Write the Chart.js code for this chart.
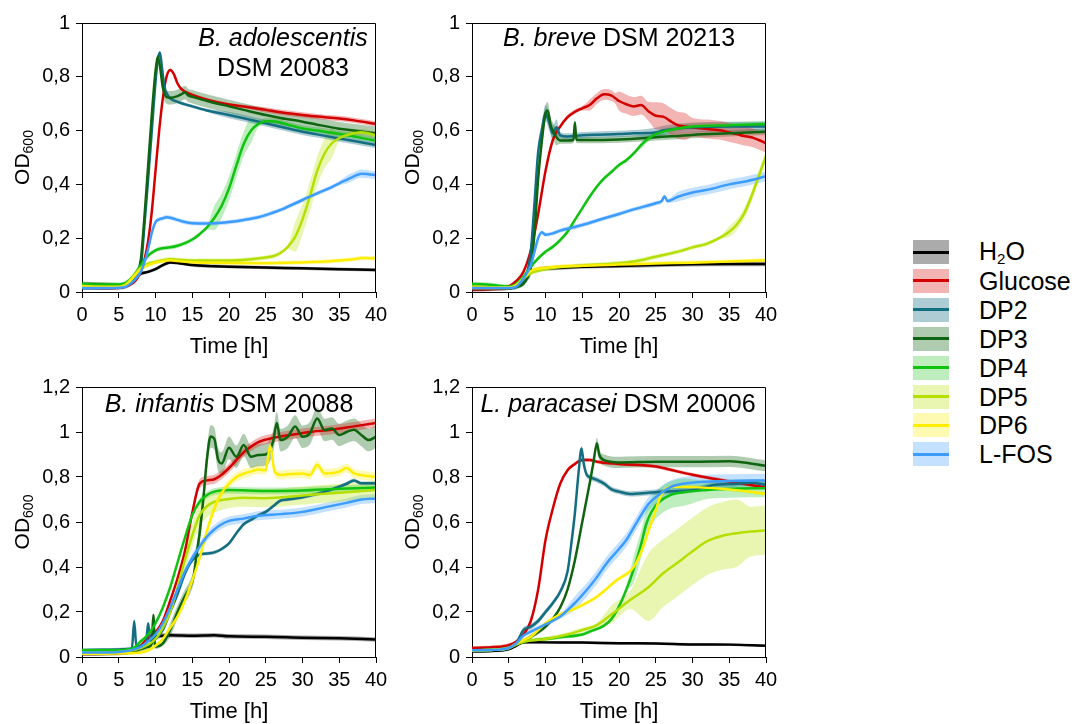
<!DOCTYPE html>
<html>
<head>
<meta charset="utf-8">
<title>OD600 growth curves</title>
<script src="https://cdn.jsdelivr.net/npm/chart.js@4.4.1/dist/chart.umd.min.js"></script>
<style>
  body { margin: 0; background: #fff; width: 1074px; height: 724px; overflow: hidden; position: relative;
         font-family: "Liberation Sans", Arial, sans-serif; color: #000; }
  canvas { position: absolute; }
  #legend { position: absolute; left: 913px; top: 240px; }
  .row { position: absolute; left: 0; width: 160px; height: 24px; }
  .sw { position: absolute; left: 0; top: 0; width: 36px; height: 24px; }
  .sw i { position: absolute; left: 0; right: 0; top: 10.5px; height: 3px; }
  .lab { position: absolute; left: 66px; top: 12px; transform: translateY(-50%); font-size: 25px; line-height: 1; white-space: nowrap; }
</style>
</head>
<body>
<canvas id="p1" width="400" height="365" style="left:0;top:0"></canvas>
<canvas id="p2" width="400" height="365" style="left:390px;top:0"></canvas>
<canvas id="p3" width="400" height="365" style="left:0;top:365px"></canvas>
<canvas id="p4" width="400" height="365" style="left:390px;top:365px"></canvas>
<div id="legend"></div>

<script>
// ── Series / styling ──────────────────────────────────
const seriesNames = ["H2O", "Glucose", "DP2", "DP3", "DP4", "DP5", "DP6", "L-FOS"];
const lineColors = ["#000000", "#d40000", "#146e82", "#0f640f", "#10c310", "#b4e000", "#ffee00", "#3c9cff"];
const bandColors = ["rgba(0,0,0,0.33)", "rgba(220,40,40,0.35)", "rgba(20,110,130,0.35)", "rgba(15,100,15,0.33)",
                    "rgba(40,200,40,0.3)", "rgba(180,224,0,0.3)", "rgba(255,238,0,0.3)", "rgba(60,156,255,0.3)"];
const yTicksTop = [0, 0.2, 0.4, 0.6, 0.8, 1];
const yTicksBottom = [0, 0.2, 0.4, 0.6, 0.8, 1, 1.2];
const xTicks = [0, 5, 10, 15, 20, 25, 30, 35, 40];

// ── B. adolescentis DSM 20083 : [time h, OD600] ───────
const adoH2O = [[0,0.015],[3,0.015],[5,0.017],[6,0.025],[7,0.045],[8,0.068],[9,0.075],[10,0.085],[11,0.1],[12,0.11],[13,0.108],[15,0.1],[18,0.096],[20,0.094],[25,0.091],[30,0.088],[35,0.085],[40,0.082]];
const adoGlucose = [[0,0.018],[3,0.015],[5,0.015],[6,0.02],[7,0.035],[7.5,0.05],[8,0.075],[8.5,0.12],[9,0.19],[9.5,0.3],[10,0.45],[10.5,0.6],[11,0.72],[11.5,0.8],[12,0.825],[12.5,0.81],[13,0.775],[13.5,0.755],[14,0.745],[15,0.733],[17,0.715],[20,0.697],[22,0.69],[25,0.677],[27,0.668],[30,0.658],[32,0.652],[35,0.645],[37,0.638],[40,0.625]];
const adoDP2 = [[0,0.02],[3,0.02],[5,0.02],[6,0.025],[7,0.045],[7.5,0.06],[8,0.09],[8.5,0.25],[9,0.42],[9.5,0.6],[10,0.78],[10.3,0.86],[10.6,0.89],[10.9,0.83],[11.2,0.765],[11.6,0.735],[12,0.72],[13,0.707],[15,0.69],[17,0.675],[20,0.658],[22,0.646],[25,0.627],[27,0.614],[30,0.596],[32,0.586],[35,0.571],[37,0.561],[40,0.546]];
const adoDP3 = [[0,0.03],[3,0.028],[5,0.025],[6,0.03],[7,0.05],[7.5,0.07],[8,0.12],[8.5,0.28],[9,0.47],[9.5,0.66],[10,0.82],[10.3,0.875],[10.6,0.84],[11,0.76],[11.5,0.725],[12,0.722],[13,0.728],[13.5,0.735],[14,0.742],[14.5,0.73],[15,0.726],[17,0.71],[20,0.69],[22,0.677],[25,0.658],[27,0.647],[30,0.633],[32,0.622],[35,0.607],[37,0.6],[40,0.59]];
const adoDP4 = [[0,0.03],[3,0.028],[5,0.028],[6,0.035],[7,0.06],[8,0.1],[9,0.135],[10,0.155],[11,0.163],[12,0.166],[13,0.172],[14,0.182],[15,0.195],[16,0.215],[17,0.24],[18,0.275],[19,0.32],[20,0.385],[21,0.47],[22,0.55],[23,0.6],[24,0.625],[25,0.635],[26,0.635],[28,0.622],[30,0.608],[32,0.6],[35,0.588],[37,0.578],[40,0.562]];
const adoDP5 = [[0,0.022],[3,0.02],[5,0.02],[6,0.03],[7,0.06],[8,0.09],[9,0.105],[10,0.112],[11,0.118],[12,0.122],[13,0.12],[15,0.117],[20,0.117],[23,0.122],[25,0.128],[26,0.133],[27,0.145],[28,0.168],[29,0.205],[30,0.27],[31,0.355],[32,0.45],[33,0.515],[34,0.553],[35,0.572],[36,0.583],[37,0.59],[38,0.594],[40,0.583]];
const adoDP6 = [[0,0.02],[3,0.018],[5,0.018],[6,0.025],[7,0.055],[8,0.085],[9,0.1],[10,0.11],[11,0.115],[12,0.118],[13,0.115],[15,0.111],[20,0.108],[25,0.107],[30,0.11],[33,0.113],[35,0.117],[37,0.122],[38,0.126],[40,0.125]];
const adoLFOS = [[0,0.015],[3,0.015],[5,0.016],[6,0.02],[7,0.04],[8,0.075],[8.5,0.11],[9,0.16],[9.5,0.22],[10,0.26],[10.5,0.27],[11,0.274],[11.5,0.278],[12,0.276],[13,0.268],[14,0.26],[15,0.256],[17,0.255],[19,0.257],[20,0.26],[22,0.268],[24,0.278],[25,0.286],[27,0.305],[28,0.317],[30,0.342],[32,0.367],[34,0.39],[35,0.404],[36,0.417],[37,0.43],[38,0.44],[39,0.438],[40,0.435]];
// band half-widths: [from time, spread]
const adoSpread = [[[0,0.006]], [[0,0.006],[25,0.01]], [[0,0.006],[20,0.012]], [[0,0.008],[11,0.025]],
                   [[0,0.008],[18,0.045],[24,0.012]], [[0,0.008],[29,0.055],[35,0.012]], [[0,0.008]], [[0,0.008],[36,0.015]]];

// ── B. breve DSM 20213 ────────────────────────────────
const brvH2O = [[0,0.01],[3,0.012],[5,0.015],[6,0.025],[7,0.05],[8,0.075],[9,0.083],[10,0.088],[12,0.09],[15,0.094],[20,0.097],[25,0.1],[30,0.103],[35,0.104],[40,0.104]];
const brvGlucose = [[0,0.01],[3,0.012],[5,0.02],[6,0.04],[7,0.075],[8,0.155],[9,0.29],[10,0.45],[11,0.565],[12,0.615],[13,0.65],[14,0.67],[15,0.683],[16,0.695],[17,0.72],[18,0.735],[19,0.73],[19.5,0.72],[20,0.71],[21,0.698],[22,0.69],[23,0.695],[24,0.672],[25,0.655],[26,0.652],[27,0.635],[28,0.62],[29,0.615],[30,0.612],[32,0.606],[34,0.6],[35,0.593],[36,0.587],[37,0.58],[38,0.575],[39,0.565],[40,0.553]];
const brvDP2 = [[0,0.015],[3,0.015],[5,0.015],[6,0.02],[7,0.04],[7.5,0.07],[8,0.15],[8.5,0.33],[9,0.52],[9.5,0.6],[10,0.665],[10.5,0.63],[11,0.59],[11.5,0.612],[12,0.582],[13,0.578],[15,0.583],[17,0.585],[20,0.587],[22,0.59],[25,0.593],[26,0.6],[28,0.608],[30,0.612],[35,0.615],[40,0.615]];
const brvDP3 = [[0,0.015],[3,0.015],[5,0.015],[6,0.018],[7,0.03],[7.5,0.05],[8,0.09],[8.5,0.22],[9,0.42],[9.5,0.56],[10,0.665],[10.3,0.675],[10.7,0.62],[11,0.6],[11.5,0.575],[12,0.563],[13,0.563],[13.8,0.565],[14,0.63],[14.2,0.566],[15,0.565],[20,0.567],[25,0.575],[30,0.584],[35,0.59],[40,0.596]];
const brvDP4 = [[0,0.03],[2,0.028],[4,0.022],[5,0.02],[6,0.03],[7,0.057],[8,0.094],[9,0.125],[10,0.15],[11,0.168],[12,0.193],[13,0.224],[14,0.268],[15,0.311],[16,0.354],[17,0.392],[18,0.423],[19,0.447],[20,0.472],[21,0.49],[22,0.515],[23,0.546],[24,0.571],[25,0.587],[26,0.596],[27,0.602],[28,0.608],[30,0.615],[35,0.62],[40,0.625]];
const brvDP5 = [[0,0.02],[3,0.018],[5,0.018],[6,0.025],[7,0.05],[8,0.07],[10,0.085],[15,0.098],[20,0.107],[22,0.113],[25,0.131],[28,0.15],[30,0.166],[32,0.18],[34,0.206],[35,0.224],[36,0.25],[37,0.29],[38,0.354],[39,0.43],[40,0.506]];
const brvDP6 = [[0,0.015],[3,0.015],[5,0.015],[6,0.025],[7,0.05],[8,0.078],[10,0.09],[15,0.098],[20,0.102],[25,0.106],[30,0.109],[35,0.113],[40,0.118]];
const brvLFOS = [[0,0.015],[3,0.015],[5,0.015],[6,0.02],[7,0.05],[8,0.1],[8.5,0.15],[9,0.2],[9.5,0.222],[10,0.213],[11,0.218],[12,0.228],[15,0.249],[18,0.274],[20,0.29],[22,0.307],[25,0.33],[25.8,0.338],[26.2,0.355],[26.6,0.338],[28,0.354],[30,0.37],[32,0.38],[35,0.4],[37,0.41],[40,0.43]];
const brvSpread = [[[0,0.008]], [[0,0.008],[16,0.02],[20,0.035],[25,0.05],[30,0.035]], [[0,0.008],[8,0.03],[12,0.012],[24,0.018]],
                   [[0,0.008],[8,0.03],[12,0.012]], [[0,0.008],[23,0.012]], [[0,0.008],[35,0.02]], [[0,0.008]], [[0,0.008],[28,0.018]]];

// ── B. infantis DSM 20088 ─────────────────────────────
const infH2O = [[0,0.015],[3,0.016],[5,0.018],[7,0.028],[8,0.046],[9,0.076],[10,0.09],[12,0.097],[15,0.095],[18,0.097],[20,0.092],[25,0.09],[30,0.086],[35,0.083],[40,0.078]];
const infGlucose = [[0,0.015],[3,0.016],[5,0.02],[7,0.025],[8,0.05],[9,0.085],[10,0.11],[11,0.16],[12,0.25],[13,0.35],[14,0.47],[15,0.64],[16,0.77],[17,0.785],[18,0.79],[19,0.81],[20,0.84],[21,0.875],[22,0.91],[23,0.935],[24,0.955],[25,0.966],[27,0.98],[29,0.99],[31,1.0],[34,1.01],[37,1.025],[40,1.04]];
const infDP2 = [[0,0.03],[3,0.032],[5,0.033],[6,0.035],[6.8,0.04],[7.1,0.16],[7.4,0.045],[8,0.05],[8.7,0.06],[9,0.15],[9.3,0.07],[10,0.08],[11,0.12],[12,0.2],[13,0.28],[14,0.37],[15,0.43],[16,0.455],[17,0.46],[18,0.465],[19,0.48],[20,0.505],[21,0.55],[22,0.59],[23,0.61],[24,0.63],[25,0.645],[26,0.67],[27,0.695],[28,0.7],[30,0.71],[32,0.725],[34,0.745],[35,0.757],[36,0.77],[37,0.785],[38,0.772],[40,0.772]];
const infDP3 = [[0,0.02],[3,0.02],[5,0.022],[7,0.025],[8,0.035],[9,0.045],[9.5,0.06],[9.7,0.187],[9.9,0.06],[10,0.046],[11,0.06],[12,0.12],[13,0.2],[14,0.27],[14.7,0.31],[15.2,0.36],[15.6,0.46],[16,0.55],[16.5,0.7],[17,0.88],[17.5,0.98],[18,0.97],[18.5,0.88],[19,0.86],[20,0.93],[21,0.89],[22,0.942],[23,0.89],[24,0.898],[25,0.9],[26,0.957],[26.5,1.04],[27,0.964],[28,0.979],[29,1.024],[30,0.979],[31,0.994],[32,1.06],[33,1.009],[34,1.016],[35,0.987],[36,1.0],[37,1.01],[38,0.987],[39,0.964],[40,0.979]];
const infDP4 = [[0,0.03],[3,0.03],[5,0.03],[7,0.04],[8,0.07],[9,0.1],[10,0.15],[11,0.22],[12,0.31],[13,0.42],[14,0.53],[15,0.63],[16,0.69],[17,0.72],[18,0.735],[20,0.742],[25,0.738],[30,0.74],[35,0.748],[40,0.753]];
const infDP5 = [[0,0.02],[3,0.02],[5,0.022],[8,0.04],[10,0.08],[11,0.13],[12,0.2],[13,0.31],[14,0.43],[15,0.54],[16,0.63],[17,0.67],[18,0.69],[20,0.702],[22,0.708],[25,0.706],[30,0.718],[35,0.73],[40,0.742]];
const infDP6 = [[0,0.015],[3,0.015],[5,0.016],[8,0.02],[9,0.03],[10,0.05],[11,0.08],[12,0.13],[13,0.18],[14,0.25],[15,0.34],[16,0.44],[17,0.56],[18,0.66],[19,0.73],[20,0.77],[21,0.8],[22,0.815],[23,0.825],[24,0.833],[25,0.83],[25.6,0.94],[26.2,0.825],[27,0.809],[28,0.812],[30,0.816],[31,0.809],[32,0.853],[33,0.816],[35,0.824],[36,0.84],[37,0.816],[38,0.809],[40,0.8]];
const infLFOS = [[0,0.02],[3,0.02],[5,0.022],[8,0.045],[9,0.07],[10,0.1],[11,0.15],[12,0.22],[13,0.3],[14,0.38],[15,0.44],[16,0.49],[17,0.535],[18,0.567],[19,0.59],[20,0.605],[22,0.615],[24,0.628],[27,0.635],[30,0.645],[33,0.665],[36,0.685],[38,0.7],[40,0.705]];
const infSpread = [[[0,0.01]], [[0,0.008],[15,0.02]], [[0,0.008]], [[0,0.01],[12,0.03],[16,0.05]],
                   [[0,0.008],[16,0.015]], [[0,0.01],[14,0.05],[20,0.04]], [[0,0.008],[17,0.02]], [[0,0.008],[15,0.02]]];

// ── L. paracasei DSM 20006 ────────────────────────────
const parH2O = [[0,0.025],[3,0.028],[5,0.035],[6,0.05],[7,0.066],[10,0.065],[15,0.064],[20,0.061],[25,0.06],[30,0.056],[35,0.055],[40,0.05]];
const parGlucose = [[0,0.04],[3,0.044],[5,0.053],[6,0.068],[7,0.1],[8,0.16],[9,0.3],[10,0.52],[11,0.66],[12,0.77],[13,0.83],[14,0.858],[15,0.876],[16,0.876],[17,0.868],[20,0.858],[25,0.847],[27,0.832],[30,0.81],[32.5,0.794],[35,0.78],[40,0.753]];
const parDP2 = [[0,0.03],[3,0.033],[5,0.04],[6,0.06],[7,0.12],[8,0.135],[9,0.16],[10,0.2],[11,0.24],[12,0.29],[13,0.38],[13.5,0.5],[14,0.64],[14.5,0.82],[14.9,0.927],[15.2,0.86],[15.6,0.81],[16,0.8],[17,0.787],[18,0.77],[19,0.745],[20,0.735],[21.5,0.725],[24,0.73],[26,0.735],[30,0.742],[33,0.765],[36,0.77],[38,0.775],[40,0.765]];
const parDP3 = [[0,0.03],[3,0.032],[5,0.04],[6,0.055],[7,0.07],[8,0.09],[9,0.11],[10,0.135],[11,0.17],[12,0.22],[13,0.3],[14,0.43],[15,0.6],[16,0.77],[16.5,0.86],[17,0.95],[17.3,0.9],[18,0.875],[20,0.865],[25,0.868],[30,0.868],[35,0.87],[40,0.85]];
const parDP4 = [[0,0.03],[3,0.032],[5,0.04],[6,0.055],[7,0.068],[10,0.08],[12,0.088],[15,0.1],[16,0.113],[18,0.14],[19,0.17],[20,0.225],[21,0.3],[22,0.39],[23,0.5],[23.7,0.59],[24.5,0.65],[25.5,0.69],[27,0.72],[29,0.733],[32,0.742],[35,0.748],[40,0.75]];
const parDP5 = [[0,0.03],[3,0.032],[5,0.04],[6,0.055],[7,0.068],[10,0.08],[13,0.1],[15,0.12],[17,0.142],[19,0.19],[21.5,0.253],[24,0.31],[26,0.372],[28,0.42],[30,0.47],[32,0.515],[34,0.538],[36,0.55],[38,0.558],[40,0.563]];
const parDP6 = [[0,0.03],[3,0.032],[5,0.04],[6,0.06],[7,0.075],[8,0.09],[10,0.15],[12,0.19],[14,0.215],[17,0.268],[19.7,0.342],[22,0.4],[23.3,0.49],[24,0.56],[24.7,0.624],[25.5,0.7],[26,0.735],[27.4,0.757],[30,0.755],[35,0.745],[40,0.725]];
const parLFOS = [[0,0.03],[3,0.032],[5,0.04],[6,0.06],[7,0.095],[8,0.113],[10,0.145],[12,0.18],[14,0.24],[15.6,0.298],[17,0.355],[18.3,0.416],[20,0.48],[21,0.52],[22,0.575],[23.3,0.646],[24,0.68],[25,0.71],[27,0.755],[30,0.775],[35,0.782],[40,0.785]];
const parSpread = [[[0,0.006]], [[0,0.008]], [[0,0.012]], [[0,0.01],[17,0.025]],
                   [[0,0.008],[22,0.06],[30,0.04]], [[0,0.01],[18,0.04],[22,0.1],[24,0.15],[37,0.11]], [[0,0.008]], [[0,0.01],[13,0.03]]];

(function () {
  "use strict";

  const FONT = '"Liberation Sans", Arial, sans-serif';
  Chart.defaults.font.family = FONT;
  Chart.defaults.color = "#000";

  // ── Frame, y title, panel title ───────────────────────
  const panelDeco = {
    id: "panelDeco",
    afterDraw(chart, args, opts) {
      const ctx = chart.ctx;
      const a = chart.chartArea;
      ctx.save();
      ctx.strokeStyle = "#000";
      ctx.lineWidth = 1;
      ctx.beginPath();
      ctx.moveTo(Math.round(a.left), Math.round(a.top) + 0.5);
      ctx.lineTo(Math.round(a.right) - 0.5, Math.round(a.top) + 0.5);
      ctx.lineTo(Math.round(a.right) - 0.5, Math.round(a.bottom));
      ctx.stroke();

      // OD600 (rotated, with subscript)
      ctx.translate(22, (a.top + a.bottom) / 2);
      ctx.rotate(-Math.PI / 2);
      ctx.fillStyle = "#000";
      ctx.textBaseline = "alphabetic";
      ctx.font = "21px " + FONT;
      const wOD = ctx.measureText("OD").width;
      ctx.font = "14px " + FONT;
      const wSub = ctx.measureText("600").width;
      const x0 = -(wOD + wSub) / 2;
      ctx.font = "21px " + FONT;
      ctx.fillText("OD", x0, 7);
      ctx.font = "14px " + FONT;
      ctx.fillText("600", x0 + wOD, 11);
      ctx.setTransform(1, 0, 0, 1, 0, 0);

      // panel title lines: segments [text, italic]
      (opts.lines || []).forEach((segs, li) => {
        let total = 0;
        segs.forEach(([txt, it]) => {
          ctx.font = (it ? "italic " : "") + "25px " + FONT;
          total += ctx.measureText(txt).width;
        });
        let x = opts.cx - total / 2;
        segs.forEach(([txt, it]) => {
          ctx.font = (it ? "italic " : "") + "25px " + FONT;
          ctx.fillText(txt, x, opts.baseline + li * 30);
          x += ctx.measureText(txt).width;
        });
      });
      ctx.restore();
    }
  };

  const spreadAt = (pieces, t) => {
    let s = pieces[0][1];
    pieces.forEach(([t0, v]) => { if (t >= t0) s = v; });
    return s;
  };

  const fmt = (v) => Number(v.toFixed(1)).toString().replace(".", ",");

  function makePanel(id, series, spreads, yTicks, title, topPad) {
    const bands = [];
    const lines = [];
    series.forEach((pts, i) => {
      const up = pts.map(([t, v]) => [t, v + spreadAt(spreads[i], t)]);
      const lo = pts.map(([t, v]) => [t, Math.max(0, v - spreadAt(spreads[i], t))]);
      bands.push({ data: up, borderWidth: 0, pointRadius: 0, fill: false, order: 50, cubicInterpolationMode: "monotone" });
      bands.push({ data: lo, borderWidth: 0, pointRadius: 0, fill: "-1", backgroundColor: bandColors[i], order: 50, cubicInterpolationMode: "monotone" });
      lines.push({ label: seriesNames[i], data: pts, borderColor: lineColors[i], borderWidth: 2.5, pointRadius: 0,
                   fill: false, order: 10 - i, cubicInterpolationMode: "monotone", borderJoinStyle: "round" });
    });

    const yMax = yTicks[yTicks.length - 1];
    new Chart(document.getElementById(id), {
      type: "line",
      data: { datasets: bands.concat(lines) },
      options: {
        responsive: false,
        animation: false,
        events: [],
        layout: { padding: { top: topPad, right: 24, left: 0, bottom: 0 } },
        plugins: { legend: { display: false }, tooltip: { enabled: false }, panelDeco: title },
        scales: {
          x: {
            type: "linear", min: 0, max: 40,
            afterBuildTicks: (s) => { s.ticks = xTicks.map((v) => ({ value: v })); },
            afterFit: (s) => { s.height = 73; },
            ticks: { font: { size: 20 }, padding: 5, maxRotation: 0, color: "#000" },
            grid: { drawOnChartArea: false, color: "#000", tickLength: 6, tickWidth: 1 },
            border: { display: true, color: "#000", width: 1 },
            title: { display: true, text: "Time [h]", font: { size: 22 }, color: "#000", padding: { top: 0, bottom: 5 } }
          },
          y: {
            min: 0, max: yMax,
            afterBuildTicks: (s) => { s.ticks = yTicks.map((v) => ({ value: v })); },
            afterFit: (s) => { s.width = 82; },
            ticks: { font: { size: 20 }, padding: 6, color: "#000", callback: (v) => fmt(v) },
            grid: { drawOnChartArea: false, color: "#000", tickLength: 6, tickWidth: 1 },
            border: { display: true, color: "#000", width: 1 }
          }
        }
      },
      plugins: [panelDeco]
    });
  }

  makePanel("p1", [adoH2O, adoGlucose, adoDP2, adoDP3, adoDP4, adoDP5, adoDP6, adoLFOS], adoSpread, yTicksTop,
    { lines: [[["B. adolescentis", true]], [["DSM 20083", false]]], cx: 283, baseline: 46 }, 23);
  makePanel("p2", [brvH2O, brvGlucose, brvDP2, brvDP3, brvDP4, brvDP5, brvDP6, brvLFOS], brvSpread, yTicksTop,
    { lines: [[["B. breve", true], [" DSM 20213", false]]], cx: 229, baseline: 46 }, 23);
  makePanel("p3", [infH2O, infGlucose, infDP2, infDP3, infDP4, infDP5, infDP6, infLFOS], infSpread, yTicksBottom,
    { lines: [[["B. infantis", true], [" DSM 20088", false]]], cx: 229, baseline: 47 }, 22);
  makePanel("p4", [parH2O, parGlucose, parDP2, parDP3, parDP4, parDP5, parDP6, parLFOS], parSpread, yTicksBottom,
    { lines: [[["L. paracasei", true], [" DSM 20006", false]]], cx: 228, baseline: 47 }, 22);

  // ── Legend ────────────────────────────────────────────
  const legend = document.getElementById("legend");
  legend.innerHTML = seriesNames
    .map((name, i) => {
      const label = name === "H2O" ? "H<sub style=\"font-size:15px;vertical-align:-4px\">2</sub>O" : name;
      return `
        <div class="row" style="top:${(i * 28.9).toFixed(1)}px">
          <div class="sw" style="background:${bandColors[i]}"><i style="background:${lineColors[i]}"></i></div>
          <div class="lab">${label}</div>
        </div>`;
    })
    .join("");
})();
</script>
</body>
</html>
